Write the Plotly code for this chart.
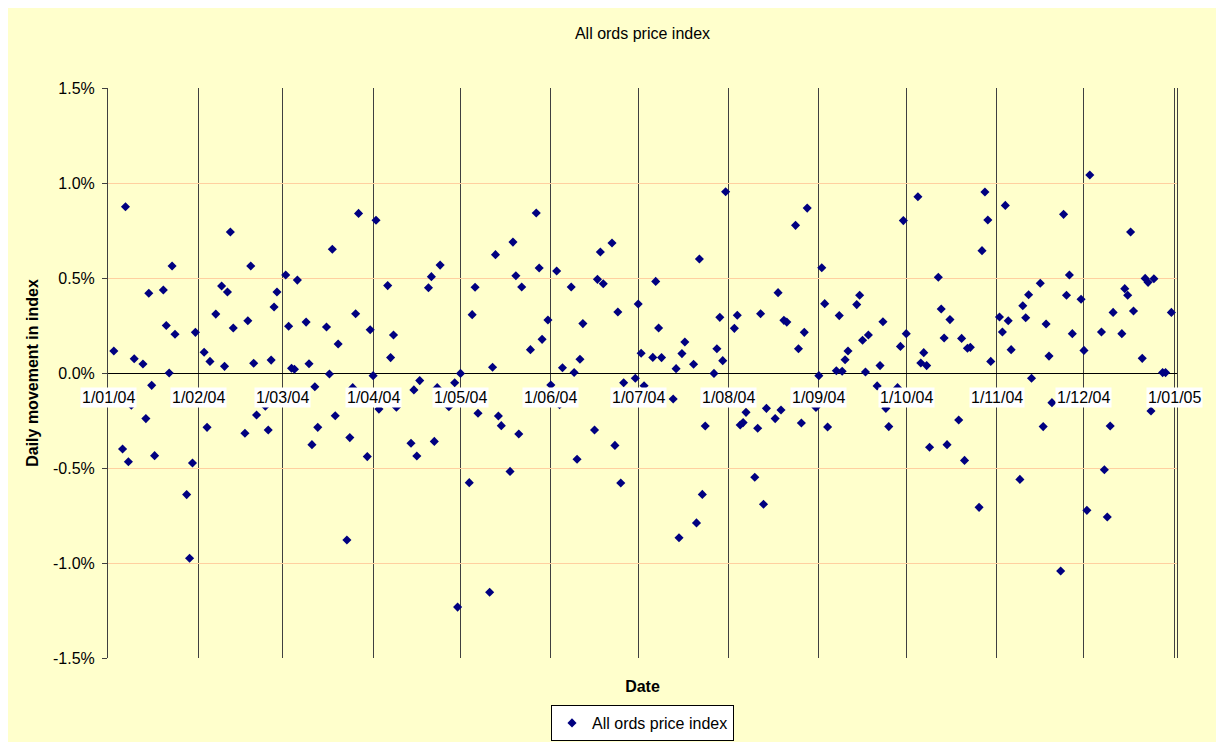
import pandas as pd
import plotly.graph_objects as go

# Day offset from 1 Jan 2004 for each trading day shown, and daily movement (%)
day_offset = [
    2, 5, 6, 7, 8, 9, 12, 13, 14, 15, 16, 19, 20, 21, 22, 23, 27, 28, 29, 30,
    33, 34, 35, 37, 39, 40, 41, 42, 43, 47, 48, 49, 50, 51, 54, 55, 56, 57, 58,
    61, 62, 63, 64, 65, 68, 69, 70, 71, 72, 75, 76, 77, 78, 79, 82, 83, 84, 85, 86,
    89, 90, 91, 92, 93, 96, 97, 98, 99, 104, 105, 106, 107, 110, 111, 112, 113, 114,
    117, 119, 120, 121, 124, 125, 126, 127, 131, 132, 133, 134, 135, 138, 139, 140,
    141, 142, 145, 147, 148, 149, 151, 152, 154, 155, 156, 159, 160, 161, 162, 163,
    167, 168, 169, 170, 173, 174, 175, 176, 177, 181, 182, 183, 184, 187, 188, 189,
    190, 194, 195, 196, 197, 198, 201, 202, 203, 204, 205, 208, 209, 210, 211, 212,
    215, 216, 217, 218, 219, 222, 223, 224, 225, 226, 229, 230, 231, 232, 233, 236,
    237, 238, 239, 240, 243, 244, 245, 246, 247, 250, 251, 252, 253, 254, 257, 258,
    259, 260, 261, 264, 265, 266, 267, 268, 271, 272, 273, 274, 278, 279, 280, 281,
    282, 285, 286, 287, 288, 289, 292, 293, 294, 295, 296, 299, 300, 301, 302, 303,
    306, 307, 308, 309, 310, 313, 314, 315, 316, 317, 320, 321, 322, 323, 324, 327,
    328, 329, 330, 331, 334, 335, 336, 337, 341, 342, 343, 344, 345, 348, 349, 350,
    351, 352, 355, 356, 357, 358, 359, 362, 363, 365,
]
daily_move_pct = [
    0.116, -0.400, 0.875, -0.467, -0.170, 0.075, 0.047, -0.240, 0.420, -0.065,
    -0.435, 0.437, 0.250, 0.000, 0.563, 0.204, -0.640, -0.975, -0.474, 0.214,
    0.109, -0.286, 0.061, 0.310, 0.458, 0.035, 0.426, 0.742, 0.237, -0.317, 0.275,
    0.563, 0.051, -0.221, -0.175, -0.300, 0.068, 0.347, 0.426, 0.516, 0.246, 0.025,
    0.020, 0.489, 0.268, 0.049, -0.377, -0.072, -0.286, 0.242, -0.005, 0.651,
    -0.225, 0.153, -0.879, -0.340, -0.077, 0.312, 0.840, -0.440, 0.228, -0.014,
    0.804, -0.190, 0.460, 0.081, 0.200, -0.180, -0.370, -0.089, -0.437, -0.040,
    0.449, 0.507, -0.360, -0.077, 0.568, -0.177, -0.051, -1.232, -0.002, -0.577,
    0.307, 0.451, -0.212, -1.154, 0.030, 0.623, -0.226, -0.277, -0.518, 0.689,
    0.512, -0.321, 0.453, 0.123, 0.842, 0.553, 0.177, 0.279, -0.063, 0.537,
    -0.167, 0.028, 0.453, 0.003, -0.454, 0.072, 0.260, -0.300, 0.493, 0.637,
    0.470, 0.684, -0.381, 0.321, -0.579, -0.051, -0.028, 0.363, 0.104, -0.067,
    0.082, 0.482, 0.237, 0.081, -0.137, 0.023, -0.867, 0.102, 0.163, 0.046,
    -0.789, 0.600, -0.639, -0.279, -0.002, 0.128, 0.293, 0.065, 0.954, 0.235,
    0.304, -0.274, -0.261, -0.207, -0.549, -0.291, 0.312, -0.691, -0.186, -0.240,
    0.423, -0.195, 0.277, 0.268, 0.777, 0.128, -0.263, 0.214, 0.868, -0.181,
    -0.014, 0.554, 0.365, -0.284, 0.012, 0.302, 0.009, 0.070, 0.116, 0.360,
    0.409, 0.172, 0.005, 0.200, -0.068, 0.039, 0.270, -0.186, -0.282, -0.077,
    0.140, 0.802, 0.207, 0.928, 0.053, 0.107, 0.039, -0.391, 0.504, 0.337, 0.184,
    -0.377, 0.281, -0.247, 0.182, -0.460, 0.130, 0.135, -0.707, 0.644, 0.953,
    0.805, 0.061, 0.295, 0.216, 0.882, 0.275, 0.123, -0.560, 0.354, 0.291, 0.412,
    -0.028, 0.472, -0.282, 0.258, 0.089, -0.156, -1.042, 0.835, 0.409, 0.516,
    0.207, 0.388, 0.119, -0.723, 1.042, 0.216, -0.509, -0.758, -0.279, 0.319,
    0.207, 0.444, 0.409, 0.742, 0.326, 0.077, 0.498, 0.477, -0.200, 0.496, 0.002,
    0.002, 0.319,
]

tick_dates = ["2004-01-01", "2004-02-01", "2004-03-01", "2004-04-01", "2004-05-01",
              "2004-06-01", "2004-07-01", "2004-08-01", "2004-09-01", "2004-10-01",
              "2004-11-01", "2004-12-01", "2005-01-01"]
tick_labels = ["1/01/04", "1/02/04", "1/03/04", "1/04/04", "1/05/04", "1/06/04",
               "1/07/04", "1/08/04", "1/09/04", "1/10/04", "1/11/04", "1/12/04",
               "1/01/05"]
y_ticks = [-1.5, -1.0, -0.5, 0.0, 0.5, 1.0, 1.5]
y_tick_labels = ["-1.5%", "-1.0%", "-0.5%", "0.0%", "0.5%", "1.0%", "1.5%"]

dates = pd.Timestamp("2004-01-01") + pd.to_timedelta(day_offset, unit="D")

FONT = "Liberation Sans, Arial, sans-serif"
BG = "#FFFFCC"
W, H = 1208, 734

fig = go.Figure()
fig.add_trace(go.Scatter(
    x=dates, y=daily_move_pct, mode="markers", name="All ords price index",
    marker=dict(symbol="diamond", size=7, color="#000080", line=dict(width=0)),
))

annotations = []
for d, lbl in zip(tick_dates, tick_labels):
    annotations.append(dict(
        x=d, y=0, xref="x", yref="y", text=lbl, showarrow=False,
        yanchor="top", xanchor="center", yshift=-14, bgcolor="white",
        borderpad=1, font=dict(family=FONT, size=16, color="black"),
    ))

fig.update_layout(
    width=W, height=H,
    paper_bgcolor=BG, plot_bgcolor=BG,
    margin=dict(l=100, r=39, t=80, b=84, autoexpand=False),
    font=dict(family=FONT, size=16, color="black"),
    title=dict(text="All ords price index", x=0.5, xref="paper", xanchor="center",
               y=1 - 25 / H, yanchor="middle",
               font=dict(family=FONT, size=16, color="black")),
    showlegend=True,
    legend=dict(orientation="h", x=0.5, xanchor="center", y=-0.1456, yanchor="bottom",
                bgcolor="white", bordercolor="black", borderwidth=1, itemwidth=30,
                font=dict(family=FONT, size=16, color="black")),
    annotations=annotations,
    xaxis=dict(
        type="date", range=["2004-01-01", "2005-01-01 22:20"],
        tickvals=tick_dates, showticklabels=False, ticks="",
        showgrid=True, gridcolor="#404040", gridwidth=1,
        zeroline=False, showline=False, automargin=False,
        title=dict(text="<b>Date</b>", standoff=22,
                   font=dict(family=FONT, size=16, color="black")),
    ),
    yaxis=dict(
        range=[-1.5, 1.5], tickvals=y_ticks, ticktext=y_tick_labels,
        ticks="outside", ticklen=5, tickcolor="#404040", ticklabelstandoff=4,
        showgrid=True, gridcolor="#FFD0A0", gridwidth=1,
        zeroline=True, zerolinecolor="black", zerolinewidth=1,
        showline=True, linecolor="#404040", linewidth=1, mirror=True,
        automargin=False,
        title=dict(text="<b>Daily movement in index</b>", standoff=10,
                   font=dict(family=FONT, size=16, color="black")),
    ),
)

fig.write_html("out.html")
